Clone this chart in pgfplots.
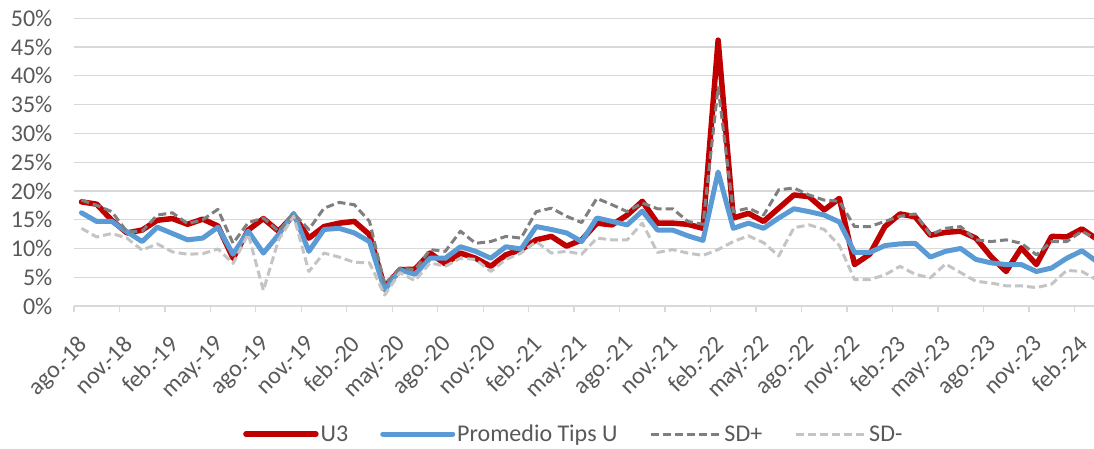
\documentclass[border=0pt]{standalone}
\usepackage{pgfplots}
\pgfplotsset{compat=1.18}
\usepackage{pgfplotstable}
\usepackage{fontspec}
\setmainfont{Carlito}
\definecolor{cU}{HTML}{C00000}
\definecolor{cP}{HTML}{5B9BD5}
\definecolor{cSp}{HTML}{7F7F7F}
\definecolor{cSm}{HTML}{C4C4C4}
\definecolor{cGrid}{HTML}{D9D9D9}
\definecolor{cTxt}{HTML}{595959}
\pgfplotstableread{
i u3 prom sdp sdm
0 18.1 16.2 18.4 13.5
1 17.7 14.7 17.5 12.0
2 14.9 14.7 16.4 12.6
3 12.7 12.9 12.9 11.8
4 13.2 11.2 13.0 9.7
5 14.9 13.7 15.8 10.8
6 15.2 12.6 16.2 9.4
7 14.2 11.5 14.3 9.0
8 15.1 11.8 15.0 9.1
9 13.9 13.7 16.8 9.9
10 8.3 9.0 10.9 7.4
11 13.2 13.0 14.5 12.5
12 15.2 9.2 15.3 2.7
13 13.0 12.4 13.0 11.5
14 15.8 16.1 16.1 15.6
15 11.8 9.5 13.3 6.0
16 13.8 13.3 17.0 9.2
17 14.4 13.5 18.0 8.5
18 14.7 12.7 17.6 7.6
19 12.4 11.2 14.7 7.5
20 3.2 2.8 3.8 1.9
21 6.3 6.3 6.6 5.8
22 6.4 5.5 6.3 4.4
23 9.2 8.3 9.8 7.5
24 7.3 8.3 9.5 6.9
25 9.2 10.3 13.0 8.3
26 8.3 9.5 10.9 8.1
27 6.9 8.3 11.2 6.0
28 8.9 10.3 12.1 8.1
29 9.8 9.9 11.8 9.2
30 11.5 13.8 16.4 11.2
31 12.1 13.3 17.0 9.2
32 10.4 12.7 15.6 9.5
33 11.5 11.2 14.5 9.0
34 14.4 15.3 18.7 11.8
35 14.1 14.7 17.6 11.5
36 15.8 14.1 16.4 11.5
37 18.2 16.5 17.9 14.4
38 14.4 13.2 16.9 9.3
39 14.4 13.2 16.9 9.8
40 14.2 12.2 14.7 9.2
41 13.5 11.4 14.2 8.8
42 46.2 23.3 38.0 9.8
43 15.3 13.5 16.4 11.2
44 16.1 14.4 17.0 12.2
45 14.7 13.5 15.8 11.0
46 17.0 15.3 20.2 8.7
47 19.3 16.9 20.5 13.6
48 19.0 16.4 19.3 14.1
49 16.7 15.8 18.4 13.3
50 18.7 14.6 18.2 10.5
51 7.2 9.3 13.8 4.6
52 9.0 9.3 13.8 4.6
53 13.8 10.5 14.7 5.4
54 16.0 10.8 15.6 6.9
55 15.5 10.9 16.0 5.5
56 12.3 8.5 12.4 4.9
57 12.8 9.5 13.5 7.3
58 13.0 10.0 13.8 5.8
59 11.8 8.1 11.5 4.3
60 8.6 7.5 11.2 4.0
61 6.0 7.2 11.5 3.5
62 10.1 7.2 10.9 3.5
63 7.2 6.0 8.9 3.2
64 12.1 6.6 11.2 3.8
65 12.0 8.3 11.2 6.2
66 13.4 9.6 13.0 6.0
67 11.6 7.7 11.6 4.5
}\datatable
\begin{document}
\begin{tikzpicture}
\useasboundingbox (0pt,0pt) rectangle (1094pt,448pt);
\begin{axis}[
  at={(73.9pt,142pt)}, anchor=south west,
  scale only axis, width=1020.1pt, height=287.7pt,
  xmin=-0.5, xmax=66.8, ymin=0, ymax=50,
  axis lines*=left,
  x axis line style={draw=cGrid, line width=1.3pt},
  y axis line style={draw=none},
  ytick={0,5,...,50},
  yticklabels={0\%,5\%,10\%,15\%,20\%,25\%,30\%,35\%,40\%,45\%,50\%},
  ytick style={draw=none},
  ymajorgrids, grid style={draw=cGrid, line width=1.3pt},
  xtick={-0.5,2.5,...,65.5},
  xticklabels={ago.-18,nov.-18,feb.-19,may.-19,ago.-19,nov.-19,feb.-20,may.-20,ago.-20,nov.-20,feb.-21,may.-21,ago.-21,nov.-21,feb.-22,may.-22,ago.-22,nov.-22,feb.-23,may.-23,ago.-23,nov.-23,feb.-24},
  tick align=outside, major tick length=6pt,
  xtick style={draw=cGrid, line width=1.3pt},
  tick label style={font=\fontsize{24}{27}\selectfont, text=cTxt},
  /pgf/number format/assume math mode=true,
  yticklabel style={anchor=east, xshift=-12pt},
  xticklabel style={inner sep=0pt, xshift=3pt, yshift=-22pt, rotate=45, anchor=north east},
  legend style={at={(0.49,-0.445)}, anchor=center, legend columns=4, draw=none,
    font=\fontsize{24}{27}\selectfont, text=cTxt,
    /tikz/every even column/.append style={column sep=30pt}},
  legend image code/.code={\draw[#1] (0pt,0pt) -- (70pt,0pt);},
  line join=round,
]
\addplot[cU, line width=5.5pt, line cap=round] table[x=i, y=u3] {\datatable};
\addlegendentry{U3}
\addplot[cP, line width=5pt, line cap=round] table[x=i, y=prom] {\datatable};
\addlegendentry{Promedio Tips U}
\addplot[cSp, line width=3pt, dash pattern=on 8pt off 4pt] table[x=i, y=sdp] {\datatable};
\addlegendentry{SD+}
\addplot[cSm, line width=3pt, dash pattern=on 8pt off 4pt] table[x=i, y=sdm] {\datatable};
\addlegendentry{SD-}
\end{axis}
\end{tikzpicture}
\end{document}
